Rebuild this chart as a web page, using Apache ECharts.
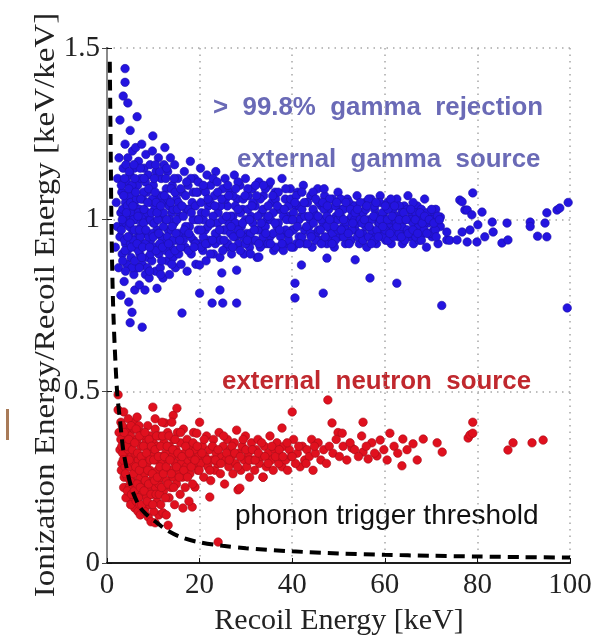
<!DOCTYPE html>
<html><head><meta charset="utf-8">
<script src="https://cdn.jsdelivr.net/npm/echarts@6/dist/echarts.min.js"></script>
<style>html,body{margin:0;padding:0;background:#fff}#c{width:605px;height:644px}</style>
</head><body><div id="c"></div>
<script>
var xTicks = [0, 20, 40, 60, 80, 100];
var yTicks = [0, 0.5, 1, 1.5];
var gammaOuter = [[1.8,0.92],[2.0,1.05],[2.2,0.98],[2.3,1.12],[2.5,0.86],[2.6,1.18],[2.8,1.29],[2.8,0.95],[3.0,1.02],[3.0,0.78],[3.2,1.08],[3.3,0.90],[3.5,1.36],[3.5,1.15],[3.6,0.99],[3.7,0.82],[3.9,1.44],[3.9,1.40],[3.9,1.22],[4.0,1.05],[4.0,0.93],[4.2,1.11],[4.3,0.87],[4.5,1.34],[4.5,1.18],[4.6,1.00],[4.7,0.76],[4.8,1.07],[4.9,0.95],[5.0,1.26],[5.0,0.70],[5.0,1.13],
[5.2,0.89],[5.3,1.02],[5.4,0.73],[5.5,1.20],[5.5,0.97],[5.6,1.09],[5.8,0.84],[5.9,1.15],[6.0,0.795],[6.0,1.04],[6.1,0.92],[6.2,1.21],[6.3,1.00],[6.5,1.30],[6.5,0.86],[6.6,1.10],[6.7,0.95],[6.8,1.17],[7.0,1.03],[7.0,0.81],[7.1,0.90],[7.3,1.12],[7.4,0.98],[7.5,1.22],[7.6,0.687],[7.6,0.87],[7.7,1.06],[7.9,0.93],[8.0,1.15],[8.1,1.01],[8.2,0.795],[8.3,0.84],[8.4,1.19],[8.5,0.96],[8.6,1.08],[8.8,0.89],[8.9,1.13],[9.0,1.00],[9.1,0.83],[9.3,1.16],[9.4,0.94],[9.5,1.05],[9.7,0.88],[9.8,1.20],[9.9,1.244],[10.0,0.99],[10.0,1.10],
[10.2,0.92],[10.3,1.03],[10.5,0.85],[10.6,1.14],[10.8,0.80],[10.8,0.97],[11.0,1.07],[11.1,1.18],[11.2,0.90],[11.4,1.01],[11.5,0.86],[11.7,1.12],[11.8,0.95],[12.0,1.05],[12.1,0.83],[12.3,1.16],[12.5,1.21],[12.5,0.93],[12.6,1.00],[12.8,1.09],[13.0,0.88],[13.1,1.14],[13.2,0.97],[13.4,1.04],[13.5,0.84],[13.7,1.18],[13.8,0.92],[14.0,1.02],[14.1,1.10],[14.3,0.89],[14.5,0.99],[14.6,1.16],[14.8,0.86],[15.0,1.06],[15.0,0.94],
[15.3,1.12],[15.5,0.90],[15.7,1.01],[16.0,0.87],[16.2,0.728],[16.2,1.08],[16.4,0.96],[16.7,1.14],[16.9,0.92],[17.1,1.03],[17.3,0.85],[17.5,1.10],[17.8,0.98],[18.0,1.17],[18.2,0.90],[18.4,1.05],[18.7,0.94],[18.9,1.12],[19.2,0.87],[19.4,1.00],[19.6,1.08],[19.9,0.93],[20.0,0.868],[20.0,0.786],[20.2,1.15],[20.4,1.02],[20.7,0.91],[20.9,1.09],[21.2,0.97],[21.4,0.88],[21.6,1.13],[21.9,1.04],[22.1,0.94],[22.4,1.10],[22.7,0.757],[22.7,0.99],[23.0,0.90],[23.2,1.07],[23.5,1.14],[23.7,0.95],[24.0,1.02],[24.4,0.795],[24.4,0.89],[24.8,0.845],[25.0,0.757],[25.0,1.09],[25.2,0.97],
[25.5,1.12],[25.8,0.92],[26.0,1.04],[26.3,0.99],[26.6,1.08],[26.9,0.90],[27.2,1.01],[27.5,1.13],[27.8,0.95],[28.0,0.853],[28.0,0.757],[28.1,1.06],[28.4,0.93],[28.7,1.10],[29.0,0.98],[29.3,1.03],[29.6,0.90],[29.9,1.12],[30.2,0.96],[30.5,1.07],[30.8,0.92],[31.1,1.01],[31.4,1.09],[31.7,0.94],[32.0,1.04],[32.4,0.89],[32.8,0.891],[32.8,1.11],[33.1,0.97],[33.4,1.02],[33.8,1.07],[34.1,0.93],[34.5,1.00],[34.9,1.10],[35.2,0.95],[35.6,1.05],[36.0,0.91],[36.3,1.08],[36.7,0.98],[37.0,1.03],[37.4,0.92],[37.8,1.12],[38.1,0.96],[38.5,1.06],[38.9,0.93],[39.2,1.01],[39.6,1.09],[40.0,0.97],
[40.3,0.92],[40.6,0.815],[40.6,0.772],[40.8,1.04],[41.2,1.08],[41.5,0.95],[42.0,0.868],[42.0,1.01],[42.4,1.10],[42.8,0.93],[43.2,1.05],[43.6,0.98],[44.0,1.07],[44.3,0.92],[44.7,1.02],[45.1,0.96],[45.5,1.09],[45.9,0.94],[46.3,1.04],[46.7,0.786],[46.7,0.99],[47.0,1.07],[47.5,0.888],[47.5,0.93],[47.9,1.03],[48.3,0.97],[48.7,1.06],[49.1,0.92],[49.5,1.01],[49.9,1.08],[50.3,0.95],[50.7,1.03],[51.1,0.98],[51.5,0.93],[51.9,1.06],[52.3,1.00],[52.7,0.94],[53.1,1.04],[53.6,0.883],[53.6,0.97],[54.0,1.07],[54.5,0.93],[54.9,1.02],
[55.3,0.96],[55.7,1.05],[56.1,0.92],[56.5,1.00],[56.8,0.83],[57.0,1.06],[57.4,0.95],[57.8,1.03],[58.2,0.93],[58.6,0.99],[59.0,1.07],[59.4,0.96],[59.8,1.02],[60.2,0.94],[60.6,1.05],[61.0,0.98],[61.4,0.93],[61.8,1.03],[62.2,0.96],[62.6,0.815],[62.6,1.06],[63.0,0.95],[63.4,1.00],[63.8,0.93],[64.2,1.04],[64.6,0.97],[65.0,1.07],[65.4,0.95],[65.8,1.01],[66.2,0.93],[66.6,0.98],[67.0,1.04],[67.4,0.94],[67.8,1.00],[68.2,0.96],[68.6,1.06],[69.0,0.92],[69.4,0.99],[69.8,1.02],[70.2,0.95],[70.6,0.97],[71.0,1.03],[71.5,0.93],[72.0,0.98],[72.3,0.75],[73.4,0.941],
[72.0,1.008],[73.4,0.964],[74.0,0.94],[75.6,0.941],[76.2,1.057],[76.7,1.052],[76.7,0.964],[77.3,1.028],[77.8,1.028],[77.8,0.935],[78.4,0.97],[78.8,1.014],[79.0,1.078],[79.9,0.935],[80.1,0.985],[81.0,1.022],[81.6,0.95],[83.2,0.993],[83.4,0.964],[85.3,0.932],[86.4,0.99],[86.6,0.941],[91.4,0.993],[91.4,0.98],[93.0,0.952],[94.6,0.99],[95.0,0.95],[95.0,1.02],[97.2,1.028],[97.8,1.034],[99.4,0.743],[99.6,1.05]];
var gammaCore = [[3.1,0.97],[3.1,1.10],[3.4,0.88],[3.4,1.03],[3.8,1.12],[3.8,0.94],[4.1,0.99],[4.1,1.16],[4.4,0.91],[4.4,1.04],[4.8,0.98],[4.8,1.14],[5.1,0.93],[5.1,1.05],[5.4,1.10],[5.4,0.86],[5.7,1.00],[5.7,0.94],[6.0,1.12],[6.0,0.88],[6.4,1.06],[6.4,0.97],[6.8,0.91],[6.8,1.02],[7.2,1.15],[7.2,0.95],[7.5,1.01],[7.5,0.89],[7.9,1.08],[7.9,0.99],[8.3,0.93],[8.3,1.11],[8.7,1.02],[8.7,0.86],[9.0,0.95],[9.0,1.09],[9.4,1.00],[9.4,0.90],[9.8,1.06],[9.8,0.96],[10.2,1.12],[10.2,0.99],[10.6,0.91],[10.6,1.05],[11.0,0.96],[11.0,1.00],[11.4,1.14],[11.4,0.93],[11.8,1.07],[11.8,0.88],[12.2,0.98],[12.2,1.02],[12.7,0.91],[12.7,1.12],[13.1,1.06],[13.1,0.95],[13.5,1.00],[13.5,0.90],[13.9,1.09],[13.9,0.97],[14.3,1.03],[14.3,0.94],[14.7,1.08],[14.7,0.91],[15.1,1.00],
[15.4,0.96],[15.4,1.05],[15.9,1.09],[15.9,0.92],[16.5,1.01],[16.5,0.94],[17.0,1.07],[17.0,0.98],[17.6,0.91],[17.6,1.03],[18.1,1.12],[18.1,0.95],[18.6,1.00],[18.6,1.08],[19.1,0.93],[19.1,1.04],[19.7,0.97],[19.7,1.11],[20.3,0.92],[20.3,1.05],[20.8,1.00],[20.8,0.95],[21.3,1.08],[21.3,1.02],[21.8,0.93],[21.8,0.98],[22.3,1.05],[22.3,0.90],[22.9,1.12],[22.9,1.01],[23.4,0.96],[23.4,0.93],[23.9,1.08],[23.9,0.99],[24.5,1.04],[24.5,0.94],[25.0,1.00],[25.0,0.91],[25.6,1.06],[25.6,0.97],[26.1,1.10],[26.1,0.93],[26.7,1.01],[26.7,0.96],[27.2,1.07],[27.2,0.92],[27.7,0.99],[27.7,1.04],[28.3,1.11],[28.3,0.97],[28.8,1.02],[28.8,0.91],[29.4,1.06],[29.4,0.95],[29.9,1.00],[29.9,0.93],[30.4,1.09],[30.4,1.03],[31.0,0.96],[31.0,0.90],[31.5,1.05],[31.5,0.99],[32.1,1.10],[32.1,0.94],[32.6,1.01],[32.6,0.97],[33.1,1.06],[33.1,0.92],[33.7,1.03],[33.7,0.95],[34.2,1.09],[34.2,0.98],[34.8,0.93],[34.8,1.04],[35.3,1.00],[35.3,1.11],[35.9,0.96],[35.9,1.02],[36.4,1.06],[36.4,0.92],[37.0,0.99],[37.0,1.08],[37.5,0.95],[37.5,1.03],[38.1,1.01],[38.1,0.91],[38.6,1.09],[38.6,0.97],[39.2,1.04],[39.2,0.94],[39.7,1.00],[39.7,1.06],
[40.3,1.02],[40.3,0.97],[40.9,1.07],[40.9,0.93],[41.5,1.00],[41.5,1.04],[42.1,0.95],[42.1,1.08],[42.7,1.01],[42.7,0.97],[43.3,0.93],[43.3,1.05],[43.9,1.00],[43.9,0.96],[44.5,1.08],[44.5,1.03],[45.1,0.94],[45.1,1.01],[45.7,1.05],[45.7,0.97],[46.3,1.00],[46.3,0.93],[46.9,1.03],[46.9,1.09],[47.5,0.98],[47.5,1.01],[48.1,0.95],[48.1,1.06],[48.7,1.00],[48.7,0.96],[49.3,1.04],[49.3,0.94],[49.9,1.00],[49.9,0.97],[50.5,1.06],[50.5,1.01],[51.1,0.95],[51.1,1.03],[51.7,0.99],[51.7,0.97],[52.3,1.05],[52.3,0.93],[52.9,1.01],[52.9,0.97],[53.5,1.04],[53.5,1.00],[54.1,0.95],[54.1,0.99],[54.7,1.05],[54.7,1.00],[55.3,1.02],[55.3,0.94],[55.9,0.98],[55.9,1.03],[56.5,0.95],[56.5,1.06],[57.1,1.00],[57.1,0.97],[57.7,1.04],[57.7,0.94],[58.3,1.01],[58.3,0.97],[58.9,1.05],[58.9,0.99],[59.5,0.95],[59.5,1.02],[60.1,1.00],[60.1,0.97],[60.7,0.94],[60.7,1.03],[61.3,1.00],[61.3,1.06],[61.9,0.97],[61.9,0.95],[62.5,1.01],[62.5,0.99],[63.1,1.04],[63.1,0.96],[63.7,0.98],[63.7,1.02],[64.3,0.94],[64.3,1.00],[64.9,0.97],[64.9,1.03],[65.5,1.00],[65.5,0.96],[66.1,1.05],[66.1,0.99],[66.7,0.95],[66.7,1.02],[67.3,0.98],[67.3,1.00],[67.9,0.94],[67.9,1.03],[68.5,0.99],[68.5,0.97],[69.1,1.02],[69.7,0.96],[70.3,1.00],[70.9,0.97],[71.4,1.01]];
var gammaFill = [[3.3,1.00],[3.6,1.07],[3.9,0.91],[4.2,1.02],[4.5,0.95],[4.7,1.09],[5.0,0.99],[5.3,0.92],[5.6,1.04],[5.9,0.97],[6.2,1.08],[6.5,0.93],[6.7,1.01],[7.0,0.97],[7.3,1.06],[7.7,0.92],[8.0,1.03],[8.4,0.97],[8.8,1.05],[9.2,0.92],[9.6,1.02],[10.0,0.95],[10.4,1.08],[10.8,1.02],[11.2,0.96],[11.6,1.04],[12.0,0.92],[12.4,1.07],[12.9,1.00],[13.3,0.93],[13.7,1.05],[14.1,0.98],[14.5,1.12],[14.9,0.96],
[4.0,0.85],[5.8,1.16],[7.0,0.86],[8.0,1.12],[9.2,0.85],[10.5,1.16],[11.6,0.84],[12.9,1.15],[14.0,0.87],
[15.2,1.03],[15.7,0.94],[16.2,1.04],[16.7,0.97],[17.2,1.11],[17.7,0.96],[18.2,1.02],[18.8,0.92],[19.3,1.08],[19.8,1.00],[20.3,0.97],[20.8,1.10],[21.3,0.93],[21.8,1.06],[22.3,0.99],[22.8,0.94],[23.3,1.04],[23.8,1.11],[24.3,0.97],[24.8,1.06],[25.3,0.94],[25.8,1.01],[26.3,1.07],[26.8,0.98],[27.3,0.95],[27.8,1.09],[28.3,1.03],[28.8,0.96],[29.3,0.99],[29.8,1.07],[30.3,0.94],[30.8,1.00],[31.3,1.04],[31.8,0.97],[32.3,1.07],[32.8,0.93],[33.3,0.99],[33.8,1.10],[34.3,0.96],[34.8,1.01],[35.3,0.93],[35.8,1.07],[36.3,0.99],[36.8,1.04],[37.3,0.97],[37.8,0.93],[38.3,1.03],[38.8,1.00],[39.3,0.96],[39.8,0.92],
[40.1,1.00],[40.6,1.05],[41.1,0.98],[41.6,0.93],[42.1,1.03],[42.6,1.05],[43.1,0.98],[43.6,1.01],[44.1,0.95],[44.6,0.99],[45.1,1.06],[45.6,1.01],[46.1,0.97],[46.6,1.05],[47.1,0.95],[47.6,1.04],[48.1,1.00],[48.6,0.93],[49.1,0.98],[49.6,1.05],[50.1,1.02],[50.6,0.97],[51.1,1.00],[51.6,1.05],[52.1,0.96],[52.6,1.03],[53.1,0.99],[53.6,1.02],[54.1,1.03],[54.6,0.96],[55.1,0.99],[55.6,1.00],[56.1,1.04],[56.6,0.98],[57.1,0.93],[57.6,1.01],[58.1,1.05],[58.6,0.95],[59.1,1.00],[59.6,0.98],[60.1,1.04],[60.6,1.00],[61.1,0.96],[61.6,1.01],[62.1,1.04],[62.6,0.98],[63.1,1.00],[63.6,0.95],[64.1,1.02],[64.6,1.00],[65.1,0.96],[65.6,1.03],[66.1,0.97],[66.6,1.00],[67.1,0.96],[67.6,1.02],[68.1,0.99],[68.6,1.01],[69.1,0.96],[69.6,1.00],[70.1,1.03],[70.6,0.99],[71.1,0.95],[71.8,1.00]];
var neutronOuter = [[2.4,0.49],[2.4,0.446],[2.6,0.38],[2.8,0.33],[3.0,0.41],[3.2,0.29],[3.5,0.36],[3.7,0.25],[4.0,0.31],[4.2,0.22],[4.5,0.39],[4.7,0.20],[5.0,0.34],[5.2,0.18],[5.5,0.28],[5.8,0.41],[6.0,0.16],[6.5,0.425],[6.7,0.15],[7.2,0.14],[7.5,0.38],[8.2,0.16],[8.9,0.134],[9.5,0.12],[9.9,0.454],[10.4,0.117],[10.4,0.42],[11.2,0.14],[12.1,0.146],[12.5,0.408],[13.2,0.11],[14.3,0.43],[15.1,0.451],[16.4,0.16],[18.4,0.163],[19.0,0.221],[22.2,0.192],[24.0,0.061],[28.3,0.213],[20.0,0.41],[33.7,0.25],[37.8,0.28],[41.7,0.28],[44.5,0.27],
[40.0,0.44],[47.7,0.475],[48.6,0.408],[49.9,0.38],[50.8,0.378],[52.9,0.335],[55.3,0.41],[55.3,0.323],[55.0,0.37],[56.4,0.303],[57.2,0.35],[58.3,0.312],[59.0,0.358],[61.1,0.378],[63.7,0.283],[63.9,0.361],[66.1,0.347],[68.3,0.361],[71.3,0.35],[72.4,0.323],[78.0,0.364],[78.4,0.373],[79.0,0.41],[79.0,0.378],[86.6,0.329],[87.7,0.35],[91.8,0.35],[94.2,0.358]];
var neutronCore = [[3.0,0.36],[3.1,0.27],[3.3,0.40],[3.4,0.32],[3.6,0.22],[3.6,0.44],[3.8,0.35],[3.9,0.28],[4.1,0.19],[4.1,0.38],[4.3,0.30],[4.4,0.25],[4.6,0.42],[4.6,0.33],[4.8,0.22],[4.9,0.28],[5.1,0.37],[5.1,0.17],[5.3,0.31],[5.4,0.24],[5.6,0.20],[5.6,0.35],[5.8,0.29],[5.9,0.39],[6.1,0.23],[6.1,0.32],[6.3,0.18],[6.4,0.27],[6.5,0.36],[6.7,0.21],[6.8,0.30],[6.9,0.40],[7.1,0.25],[7.1,0.17],[7.3,0.34],[7.4,0.28],[7.6,0.20],[7.7,0.37],[7.8,0.23],[8.0,0.31],[8.1,0.15],[8.2,0.26],[8.4,0.35],[8.5,0.19],[8.6,0.29],[8.8,0.40],[8.9,0.22],[9.0,0.33],[9.2,0.17],[9.3,0.27],[9.4,0.37],[9.6,0.24],[9.7,0.20],[9.8,0.31],[10.0,0.35],[10.1,0.15],[10.2,0.26],[10.4,0.39],[10.5,0.22],[10.6,0.30],[10.8,0.18],[10.9,0.34],[11.0,0.27],[11.2,0.23],[11.3,0.37],[11.5,0.31],[11.6,0.17],[11.7,0.25],[11.9,0.41],[12.0,0.29],
[12.2,0.21],[12.3,0.35],[12.5,0.27],[12.7,0.32],[12.8,0.14],[12.9,0.24],[13.1,0.38],[13.2,0.30],[13.4,0.19],[13.5,0.34],[13.7,0.27],[13.8,0.22],[14.0,0.41],[14.1,0.31],[14.3,0.25],[14.4,0.36],[14.6,0.17],[14.7,0.29],[14.9,0.33],[15.0,0.23],[15.2,0.38],[15.4,0.27],[15.6,0.31],[15.8,0.20],[15.9,0.35],[16.1,0.29],[16.3,0.25],[16.5,0.39],[16.7,0.32],[16.9,0.22],[17.1,0.28],[17.3,0.36],[17.5,0.30],[17.7,0.18],[17.9,0.26],[18.1,0.34],[18.3,0.31],[18.5,0.23],[18.7,0.38],[18.9,0.29],[19.2,0.33],[19.4,0.378],[19.6,0.27],[19.8,0.31],
[20.3,0.29],[20.6,0.34],[20.9,0.25],[21.2,0.31],[21.5,0.37],[21.8,0.28],[22.1,0.33],[22.4,0.24],[22.7,0.30],[23.0,0.36],[23.3,0.27],[23.6,0.32],[23.9,0.29],[24.2,0.38],[24.5,0.26],[24.8,0.31],[25.1,0.34],[25.4,0.23],[25.7,0.30],[26.0,0.36],[26.3,0.28],[26.6,0.33],[26.9,0.31],[27.2,0.26],[27.5,0.35],[27.8,0.29],[28.0,0.387],[28.4,0.32],[28.7,0.218],[28.9,0.27],[29.2,0.34],[29.6,0.30],[29.9,0.37],[30.2,0.28],[30.5,0.32],[30.8,0.25],[31.2,0.35],[31.5,0.30],[31.9,0.27],[32.2,0.33],[32.6,0.36],[32.9,0.29],[33.3,0.31],[33.7,0.25],[34.0,0.34],[34.4,0.28],[34.8,0.32],[35.2,0.37],[35.5,0.30],[35.9,0.27],[36.3,0.33],[36.7,0.35],[37.1,0.29],[37.5,0.31],[37.8,0.393],[38.2,0.34],[38.6,0.30],[39.0,0.27],[39.4,0.33],[39.8,0.31],[40.3,0.36],[40.7,0.29],[41.1,0.32],[42.2,0.34],[42.7,0.30],[43.2,0.33],[43.7,0.31],[44.2,0.36],[45.0,0.32],
[45.6,0.35],[46.2,0.30],[46.8,0.33],[47.4,0.29],[48.0,0.34],[48.8,0.32],[49.5,0.36],[50.2,0.31],[51.0,0.34],[51.8,0.30],[52.5,0.35],[53.5,0.33],[54.3,0.31],[56.0,0.34],[57.8,0.32],[59.8,0.33],[60.5,0.30],[62.0,0.34],[62.8,0.32],[64.8,0.33],[67.0,0.30]];
var neutronFill = [[3.2,0.34],[3.5,0.30],[3.7,0.38],[4.0,0.26],[4.2,0.34],[4.4,0.21],[4.7,0.36],[4.8,0.30],[5.0,0.24],[5.2,0.40],[5.3,0.20],[5.5,0.33],[5.7,0.26],[5.9,0.21],[6.0,0.35],[6.2,0.28],[6.3,0.39],[6.5,0.23],[6.6,0.32],[6.8,0.19],[7.0,0.37],[7.0,0.27],[7.2,0.22],[7.4,0.31],[7.5,0.17],[7.7,0.29],[7.9,0.34],[8.0,0.21],[8.2,0.38],[8.3,0.24],[8.5,0.32],[8.7,0.18],[8.8,0.27],[9.0,0.23],[9.1,0.36],[9.3,0.30],[9.5,0.20],[9.6,0.34],[9.8,0.26],[9.9,0.17],[10.1,0.30],[10.3,0.24],[10.4,0.33],[10.6,0.20],[10.7,0.37],[10.9,0.25],[11.1,0.31],[11.3,0.20],[11.4,0.28],[11.6,0.34],[11.8,0.22],[12.0,0.37],[12.2,0.26],[12.4,0.31],[12.6,0.19],[12.8,0.28],[13.0,0.34],[13.2,0.23],[13.4,0.37],[13.6,0.30],[13.9,0.26],[14.2,0.33],[14.4,0.22],[14.7,0.36],[15.0,0.28],[15.3,0.32],[15.6,0.25],[15.9,0.38],[16.2,0.31],[16.6,0.27],[17.0,0.34],[17.4,0.25],[17.8,0.32],[18.2,0.28],[18.6,0.35],[19.0,0.30],[19.5,0.34],[19.9,0.27],
[20.5,0.32],[21.0,0.36],[21.6,0.30],[22.2,0.27],[22.8,0.34],[23.4,0.30],[24.0,0.33],[24.6,0.29],[25.2,0.37],[25.8,0.32],[26.4,0.30],[27.0,0.34],[27.6,0.32],[28.2,0.28],[28.8,0.31],[29.4,0.36],[30.0,0.33],[30.7,0.30],[31.4,0.33],[32.0,0.30],[32.7,0.32],[33.4,0.35],[34.1,0.31],[34.8,0.29],[35.6,0.34],[36.4,0.31],[37.2,0.33],[38.0,0.31],[38.9,0.35],[40.0,0.31],[41.4,0.34],[43.0,0.29],[44.8,0.34]];
var threshold = [[0.6,1.46],[0.8,1.2],[1.0,0.95],[1.3,0.76],[1.7,0.62],[2.2,0.495],[2.8,0.417],[3.5,0.33],[4.5,0.26],[5.5,0.21],[7.1,0.163],[9,0.135],[10.8,0.117],[13,0.095],[15.8,0.076],[19.4,0.062],[25,0.05],[30,0.043],[40,0.034],[50,0.028],[60,0.024],[70,0.021],[80,0.019],[90,0.017],[100,0.016]];

var chart = echarts.init(document.getElementById('c'), null, {renderer: 'canvas'});
var serif = 'Liberation Serif';
var gammaColor = '#2414e0';
var neutronColor = '#e0101e';
var gStyle = {color: gammaColor, opacity: 1, borderColor: '#1c10a8', borderWidth: 0.6};
var nStyle = {color: neutronColor, opacity: 1, borderColor: '#a80e1a', borderWidth: 0.6};
var dot = 8.5;
chart.setOption({
  animation: false,
  backgroundColor: '#fff',
  grid: {left: 107, right: 35, top: 48, bottom: 81, show: false},
  xAxis: [{
    type: 'value', min: xTicks[0], max: xTicks[xTicks.length - 1], interval: 20,
    position: 'bottom',
    axisLine: {show: true, lineStyle: {color: '#111', width: 2}},
    axisTick: {show: true, inside: true, length: 5, lineStyle: {color: '#111', width: 1}},
    axisLabel: {fontFamily: serif, fontSize: 29, color: '#222', margin: 8},
    splitLine: {show: true, lineStyle: {color: '#a8a8a8', width: 1.5, type: [1.5, 5]}}
  }, {
    type: 'value', min: 0, max: 100, position: 'top',
    axisLine: {show: true, lineStyle: {color: '#222', width: 1.5}},
    axisTick: {show: false}, axisLabel: {show: false}, splitLine: {show: false}
  }],
  yAxis: [{
    type: 'value', min: yTicks[0], max: yTicks[yTicks.length - 1], interval: 0.5,
    axisLine: {show: true, lineStyle: {color: '#111', width: 2}},
    axisTick: {show: true, inside: true, length: 5, lineStyle: {color: '#111', width: 1}},
    axisLabel: {fontFamily: serif, fontSize: 29, color: '#222', margin: 7},
    splitLine: {show: true, lineStyle: {color: '#a8a8a8', width: 1.5, type: [1.5, 5]}}
  }, {
    type: 'value', min: 0, max: 1.5, interval: 0.5, position: 'right',
    axisLine: {show: true, lineStyle: {color: '#8a8a8a', width: 2}},
    axisTick: {show: true, inside: true, length: 5, lineStyle: {color: '#444', width: 1}},
    axisLabel: {show: false}, splitLine: {show: false}
  }],
  series: [
    {type: 'scatter', data: gammaOuter, symbolSize: dot, itemStyle: gStyle, z: 2},
    {type: 'scatter', data: gammaCore, symbolSize: dot, itemStyle: gStyle, z: 2},
    {type: 'scatter', data: gammaFill, symbolSize: dot, itemStyle: gStyle, z: 2},
    {type: 'scatter', data: neutronOuter, symbolSize: dot, itemStyle: nStyle, z: 3},
    {type: 'scatter', data: neutronCore, symbolSize: dot, itemStyle: nStyle, z: 3},
    {type: 'scatter', data: neutronFill, symbolSize: dot, itemStyle: nStyle, z: 3},
    {type: 'line', data: threshold, smooth: 0.3, showSymbol: false, symbol: 'none',
     lineStyle: {color: '#000', width: 4, type: [11, 7]}, z: 5}
  ],
  graphic: [
    {type: 'text', left: 213, top: 96, scaleX: 1.035, style: {text: '>  99.8%  gamma  rejection', font: 'bold 25px "Liberation Sans"', fill: '#6a6ab6'}},
    {type: 'text', left: 237, top: 148, scaleX: 1.035, style: {text: 'external  gamma  source', font: 'bold 25px "Liberation Sans"', fill: '#6a6ab6'}},
    {type: 'text', left: 222, top: 370, scaleX: 1.035, style: {text: 'external  neutron  source', font: 'bold 25px "Liberation Sans"', fill: '#c0282e'}},
    {type: 'text', left: 235, top: 502, style: {text: 'phonon trigger threshold', font: '28px "Liberation Sans"', fill: '#111'}},
    {type: 'text', x: 46, y: 305, rotation: Math.PI / 2, scaleX: 1.1, style: {text: 'Ionization Energy/Recoil Energy [keV/keV]', font: '30px "Liberation Serif"', fill: '#222', textAlign: 'center', textVerticalAlign: 'middle'}},
    {type: 'text', x: 339, y: 621, style: {text: 'Recoil Energy [keV]', font: '30px "Liberation Serif"', fill: '#222', textAlign: 'center', textVerticalAlign: 'middle'}},
    {type: 'rect', shape: {x: 6, y: 409, width: 3, height: 31}, style: {fill: '#a87a58'}}
  ]
});
</script></body></html>
